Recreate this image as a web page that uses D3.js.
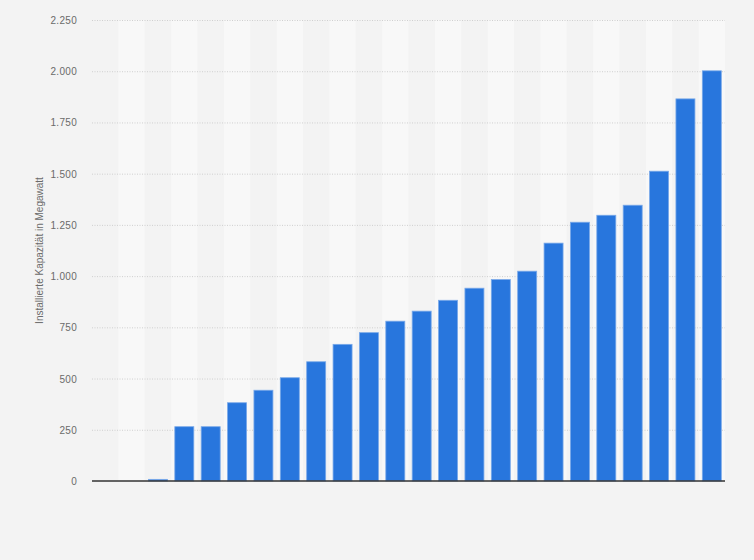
<!DOCTYPE html>
<html lang="de">
<head>
<meta charset="UTF-8">
<script src="https://d3js.org/d3.v7.min.js"></script>
<title>Installierte Kapazität</title>
<style>
  body { margin: 0; padding: 0; background: #f3f3f3; }
  #chart { width: 754px; height: 560px; }
  .tick text { font-family: "Liberation Sans", Arial, sans-serif; font-size: 10px; fill: #6a6a6a; letter-spacing: 0.3px; }
  .ytitle { font-family: "Liberation Sans", Arial, sans-serif; font-size: 10px; fill: #6a6a6a; }
</style>
</head>
<body>
<div id="chart"></div>
<script>
// jahre (keine beschriftung im bild)
const years = ["1994","1995","1996","1997","1998","1999","2000","2001","2002","2003","2004","2005",
               "2006","2007","2008","2009","2010","2011","2012","2013","2014","2015","2016","2017"];
const capacity = [0, 0, 8, 265, 265, 382, 443, 504, 582, 667, 724, 780,
                  829, 882, 941, 983, 1024, 1161, 1263, 1297, 1346, 1512, 1865, 2002];
const yTicks = [0, 250, 500, 750, 1000, 1250, 1500, 1750, 2000, 2250];

const W = 754, H = 560;
const m = { top: 20, right: 29, bottom: 79, left: 92 };

const de = d3.formatLocale({ decimal: ",", thousands: ".", grouping: [3], currency: ["", " €"] });
const fmt = de.format(",d");

const svg = d3.select("#chart").append("svg")
  .attr("width", W).attr("height", H);

const x = d3.scaleBand().domain(years).range([m.left, W - m.right]).paddingInner(0.28).paddingOuter(0.14);
const xBand = d3.scaleBand().domain(years).range([m.left, W - m.right]);
const y = d3.scaleLinear().domain([0, 2250]).range([H - m.bottom, m.top]);

// helle streifen
svg.append("g").selectAll("rect")
  .data(years.filter((d, i) => i % 2 === 1))
  .join("rect")
  .attr("x", d => xBand(d)).attr("width", xBand.bandwidth())
  .attr("y", m.top).attr("height", y(0) - m.top)
  .attr("fill", "#f8f8f8");

// gitter
svg.append("g").selectAll("line")
  .data(yTicks.slice(1))
  .join("line")
  .attr("x1", m.left).attr("x2", W - m.right)
  .attr("y1", d => y(d) + 0.5).attr("y2", d => y(d) + 0.5)
  .attr("stroke", "#cfcfcf").attr("stroke-dasharray", "1,1.5");

// y achse
const yAxis = svg.append("g")
  .attr("transform", "translate(" + (m.left - 15) + ",0)")
  .call(d3.axisLeft(y).tickValues(yTicks).tickFormat(fmt).tickSize(0).tickPadding(0));
yAxis.select(".domain").remove();
yAxis.selectAll("text").attr("dy", "0.35em");

svg.append("text").attr("class", "ytitle")
  .attr("transform", "translate(43," + ((m.top + H - m.bottom) / 2) + ") rotate(-90)")
  .attr("text-anchor", "middle")
  .text("Installierte Kapazität in Megawatt");

// balken
svg.append("g").selectAll("rect")
  .data(years.map((d, i) => ({ year: d, v: capacity[i] })).filter(d => d.v > 0))
  .join("rect")
  .attr("x", d => x(d.year)).attr("width", x.bandwidth())
  .attr("y", d => y(d.v)).attr("height", d => y(0) - y(d.v))
  .attr("fill", "#2876dd")
  .attr("stroke", "#79a9e9").attr("stroke-width", 0.8);

// x achse linie
svg.append("line")
  .attr("x1", m.left).attr("x2", W - m.right)
  .attr("y1", y(0)).attr("y2", y(0))
  .attr("stroke", "#333").attr("stroke-width", 1.5);
</script>
</body>
</html>
